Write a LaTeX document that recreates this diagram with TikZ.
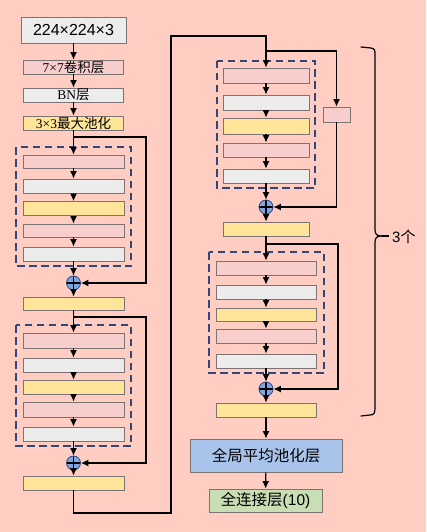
\documentclass[tikz,border=0pt]{standalone}
\usepackage{fontspec}
\setmainfont{Liberation Sans}
\newfontfamily\cjk{Noto Sans CJK SC}
\newfontfamily\serifl{Liberation Serif}
\usetikzlibrary{arrows.meta,calc}
\definecolor{bgc}{RGB}{255,205,194}
\definecolor{pinkc}{RGB}{248,206,204}
\definecolor{grayc}{RGB}{236,236,236}
\definecolor{yelc}{RGB}{255,229,153}
\definecolor{bluec}{RGB}{169,196,235}
\definecolor{greenc}{RGB}{200,223,182}
\definecolor{edgec}{RGB}{125,115,115}
\definecolor{dashc}{RGB}{50,70,120}
\definecolor{plusc}{RGB}{126,166,224}
\tikzset{
  lay/.style={draw=edgec, line width=0.9pt, inner sep=0pt, minimum height=14pt},
  pk/.style={lay, fill=pinkc},
  gy/.style={lay, fill=grayc},
  yl/.style={lay, fill=yelc},
  dbox/.style={draw=dashc, line width=2pt, dash pattern=on 7.5pt off 4.5pt},
  conn/.style={line width=1.1pt, -{Latex[length=7.5pt,width=7pt]}},
  plusn/.style={circle, draw=dashc, fill=plusc, line width=0.8pt, minimum size=14pt, inner sep=0pt,
    path picture={\draw[black, line width=1.2pt] (path picture bounding box.north) -- (path picture bounding box.south)
      (path picture bounding box.west) -- (path picture bounding box.east);}},
}
\begin{document}
\begin{tikzpicture}[x=1pt,y=-1pt]
\fill[bgc] (0,0) rectangle (426,532);
\useasboundingbox (0,0) rectangle (426,532);
% left column
\node[gy, minimum width=105pt, minimum height=26pt, font=\fontsize{16}{16}\selectfont] (in) at (73.5,30) {224×224×3};
\node[pk, minimum width=100pt, font=\fontsize{13.5}{13.5}\selectfont] (c7) at (73.5,67) {\serifl 7×7\cjk 卷积层};
\node[gy, minimum width=100pt, font=\fontsize{13.5}{13.5}\selectfont] (bn) at (73.5,95) {\serifl BN\cjk 层};
\node[yl, minimum width=100pt, font=\fontsize{13.5}{13.5}\selectfont] (mp) at (73.5,123) {\serifl 3×3\cjk 最大池化};
\draw[conn] (in) -- (c7);
\draw[conn] (c7) -- (bn);
\draw[conn] (bn) -- (mp);
% block L1
\draw[dbox] (16,147) rectangle (131,266);
\node[pk, minimum width=101pt, minimum height=13pt] (a1) at (73.5,161.5) {};
\node[gy, minimum width=101pt] (a2) at (73.5,186) {};
\node[yl, minimum width=101pt] (a3) at (73.5,208.5) {};
\node[pk, minimum width=101pt, minimum height=13pt] (a4) at (73.5,230.5) {};
\node[gy, minimum width=101pt] (a5) at (73.5,254) {};
\node[plusn] (p1) at (73.5,283) {};
\node[yl, minimum width=101pt, minimum height=13pt] (y1) at (73.5,303.5) {};
\coordinate (s1) at (73.5,137);
\draw[conn] (mp) -- (a1);
\draw[conn] (a1) -- (a2);
\draw[conn] (a2) -- (a3);
\draw[conn] (a3) -- (a4);
\draw[conn] (a4) -- (a5);
\draw[conn] (a5) -- (p1);
\draw[conn] (p1) -- (y1);
\draw[conn] (s1) -- (146,137) |- (p1);
% block L2
\draw[dbox] (16,325) rectangle (131,446);
\node[pk, minimum width=101pt, minimum height=15pt] (b1) at (73.5,340.5) {};
\node[gy, minimum width=101pt] (b2) at (73.5,365) {};
\node[yl, minimum width=101pt] (b3) at (73.5,387) {};
\node[pk, minimum width=101pt, minimum height=15pt] (b4) at (73.5,409.5) {};
\node[gy, minimum width=101pt] (b5) at (73.5,434) {};
\node[plusn] (p2) at (73.5,463) {};
\node[yl, minimum width=101pt] (y2) at (73.5,483) {};
\coordinate (s2) at (73.5,317);
\draw[conn] (y1) -- (b1);
\draw[conn] (b1) -- (b2);
\draw[conn] (b2) -- (b3);
\draw[conn] (b3) -- (b4);
\draw[conn] (b4) -- (b5);
\draw[conn] (b5) -- (p2);
\draw[conn] (p2) -- (y2);
\draw[conn] (s2) -- (146,317) |- (p2);
% block R1
\draw[dbox] (217,61) rectangle (315,188);
\node[pk, minimum width=86pt, minimum height=15pt] (c1) at (266,75.5) {};
\node[gy, minimum width=86pt, minimum height=15pt] (c2) at (266,102.5) {};
\node[yl, minimum width=86pt, minimum height=16pt] (c3) at (266,126) {};
\node[pk, minimum width=86pt] (c4) at (266,150) {};
\node[gy, minimum width=86pt] (c5) at (266,176) {};
\node[pk, minimum width=27pt, minimum height=15pt] (sm) at (336.5,114.5) {};
\node[plusn] (p3) at (266,207) {};
\node[yl, minimum width=86pt] (y3) at (266,229) {};
\coordinate (s3) at (266,51);
\draw[conn] (y2) -- (73.5,513) -- (171,513) -- (171,36) -- (266,36) -- (c1);
\draw[conn] (c1) -- (c2);
\draw[conn] (c2) -- (c3);
\draw[conn] (c3) -- (c4);
\draw[conn] (c4) -- (c5);
\draw[conn] (c5) -- (p3);
\draw[conn] (p3) -- (y3);
\draw[conn] (s3) -| (sm);
\draw[conn] (sm) |- (p3);
% block R2
\draw[dbox] (209,252) rectangle (324,373);
\node[pk, minimum width=100pt] (d1) at (266,268) {};
\node[gy, minimum width=100pt] (d2) at (266,292) {};
\node[yl, minimum width=100pt, minimum height=13pt] (d3) at (266,314.5) {};
\node[pk, minimum width=100pt] (d4) at (266,336) {};
\node[gy, minimum width=100pt] (d5) at (266,361) {};
\node[plusn] (p4) at (266,389) {};
\node[yl, minimum width=100pt] (y4) at (266,410) {};
\coordinate (s4) at (266,244);
\draw[conn] (y3) -- (d1);
\draw[conn] (d1) -- (d2);
\draw[conn] (d2) -- (d3);
\draw[conn] (d3) -- (d4);
\draw[conn] (d4) -- (d5);
\draw[conn] (d5) -- (p4);
\draw[conn] (p4) -- (y4);
\draw[conn] (s4) -- (338,244) |- (p4);
% output
\node[lay, fill=bluec, minimum width=152pt, minimum height=33pt, font=\cjk\fontsize{15.5}{15.5}\selectfont] (gap) at (266,455.5) {全局平均池化层};
\node[lay, fill=greenc, minimum width=113pt, minimum height=23pt, font=\fontsize{15.5}{15.5}\selectfont] (fc) at (265.5,500.5) {\cjk 全连接层\rmfamily(10)};
\draw[conn] (y4) -- (gap);
\draw[conn] (gap) -- (fc);
% brace
\draw[line width=1.2pt, line cap=round, line join=round] (361,47) -- (371,48) .. controls (375,49) and (375,50) .. (375,55) -- (375,230) .. controls (375,234) and (377,236) .. (381,236) .. controls (377,236) and (375,238) .. (375,242) -- (375,408) .. controls (375,413) and (374,415) .. (370,415) -- (361,416);
\draw[line width=1.2pt] (381,236) -- (389,236);
\node[font=\fontsize{15}{15}\selectfont, anchor=west, inner sep=0pt] (lbl) at (392,237) {3\cjk 个};
\end{tikzpicture}
\end{document}
